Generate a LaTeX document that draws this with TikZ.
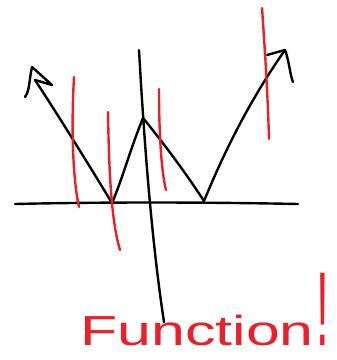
\documentclass[tikz,border=0pt]{standalone}
\usepackage{fontspec}
\usepackage{graphicx}
\setmainfont{Liberation Sans}
\definecolor{fnred}{RGB}{236,30,40}
\begin{document}
\begin{tikzpicture}[x=1pt,y=-1pt,line cap=round,line join=round,
  blk/.style={line width=2.4pt,black},
  redl/.style={line width=2.4pt,fnred},
  lbl/.style={text=fnred,inner sep=0pt}]
\useasboundingbox (0,0) rectangle (337,360);
% axes
\coordinate (xl) at (15,204);
\coordinate (xr) at (298,204);
\coordinate (yt) at (139,50);
\coordinate (yb) at (164,322);
\draw[blk] (xl) .. controls (100,202) and (200,202) .. (xr);
\draw[blk] (yt) .. controls (143,120) and (150,230) .. (yb);
% function
\coordinate (p0) at (35,80);
\coordinate (p1) at (112,203);
\coordinate (p2) at (143,118);
\coordinate (p3) at (204,201);
\coordinate (p4) at (285,50);
\draw[blk] (p0) .. controls (60,118) and (92,170) .. (p1)
  .. controls (122,180) and (130,150) .. (p2)
  .. controls (165,145) and (185,172) .. (p3)
  .. controls (225,150) and (250,100) .. (p4);
% arrowheads
\draw[blk] (p0) -- (52,85) -- (32,67) .. controls (29,80) and (30,90) .. (25,97);
\draw[blk] (267,55) -- (p4) .. controls (289,60) and (290,75) .. (293,82);
% vertical line test
\draw[redl] (74,77) .. controls (71,130) and (73,180) .. (79,207);
\draw[redl] (108,112) .. controls (109,170) and (111,220) .. (120,250);
\draw[redl] (159,89) .. controls (159,130) and (161,170) .. (166,190);
\draw[redl] (262,8) .. controls (265,50) and (268,100) .. (269,139);
% label
\node[lbl,anchor=base west,font=\fontsize{42}{42}\selectfont,xscale=1.45] (fn) at (80,345)
  {Function\hspace{2pt}\scalebox{0.3}[1]{\fontsize{105}{105}\selectfont !}};
\end{tikzpicture}
\end{document}
